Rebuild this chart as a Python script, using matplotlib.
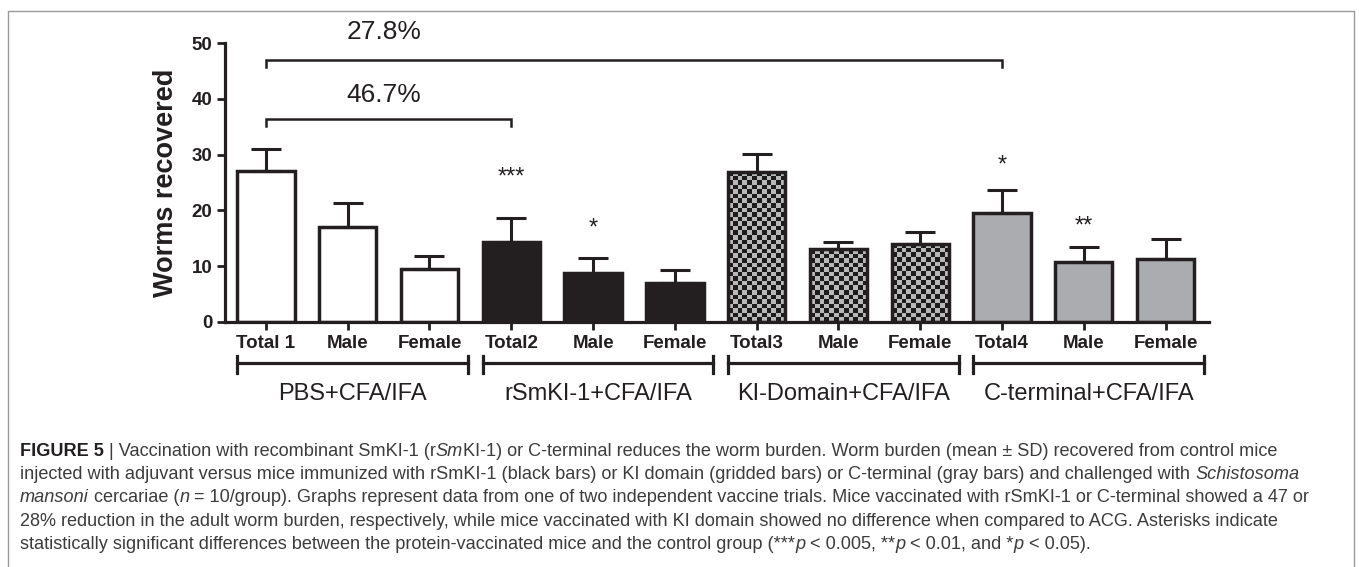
import matplotlib.pyplot as plt
import numpy as np
from matplotlib.lines import Line2D

# フォント設定
plt.rcParams['font.family'] = ['Liberation Sans', 'DejaVu Sans']

# データ
categories = ['Total 1', 'Male', 'Female', 'Total2', 'Male', 'Female',
              'Total3', 'Male', 'Female', 'Total4', 'Male', 'Female']
groups = ['PBS+CFA/IFA', 'rSmKI-1+CFA/IFA', 'KI-Domain+CFA/IFA', 'C-terminal+CFA/IFA']
means = [27.0, 17.1, 9.5, 14.4, 8.7, 7.0, 26.9, 13.0, 14.0, 19.5, 10.7, 11.3]
sds = [4.0, 4.3, 2.3, 4.2, 2.8, 2.4, 3.2, 1.4, 2.1, 4.1, 2.7, 3.5]
stars = ['', '', '', '***', '*', '', '', '', '', '*', '**', '']
star_y = [0, 0, 0, 24.0, 14.8, 0, 0, 0, 0, 26.0, 15.1, 0]
fills = ['white'] * 3 + ['#231f20'] * 3 + ['check'] * 3 + ['#abacaf'] * 3
# 比較ブラケット: (開始, 終了, 高さ, ラベル)
comparisons = [(0, 3, 36.4, '46.7%'), (0, 9, 47.0, '27.8%')]
pct_label_y = [40.6, 51.9]

W, H = 1359, 567
dark = '#231f20'

fig = plt.figure(figsize=(W / 100, H / 100), dpi=100)
ax = fig.add_axes([225 / W, 1 - 322 / H, 984 / W, 279 / H])

x = np.arange(len(categories))
bars = ax.bar(x, means, width=0.7,
              color=[('none' if f == 'check' else f) for f in fills],
              edgecolor=dark, linewidth=2.5, zorder=2)

# 格子模様のバー
for b, f in zip(bars, fills):
    if f != 'check':
        continue
    bh = b.get_height()
    nx = 12
    ny = int(round(bh * 5.58 / 4.6))
    board = (np.add.outer(np.arange(ny), np.arange(nx)) % 2).astype(float)
    im = ax.imshow(board, cmap=plt.matplotlib.colors.ListedColormap(['#1c1c1c', '#b8b8b8']),
                   extent=(b.get_x(), b.get_x() + b.get_width(), 0, bh),
                   aspect='auto', interpolation='nearest', zorder=1)
    im.set_clip_path(b)

ax.errorbar(x, means, yerr=[np.zeros(len(sds)), sds], fmt='none', ecolor=dark,
            elinewidth=2.2, capsize=10.5, capthick=2.2, zorder=3)

for xi, s, sy in zip(x, stars, star_y):
    if s:
        ax.text(xi, sy, s, ha='center', va='bottom', fontsize=17, color=dark)

# 比較ブラケット
for (a, b2, h, lab), ly in zip(comparisons, pct_label_y):
    ax.plot([a, a, b2, b2], [h - 1.3, h, h, h - 1.3], color=dark, lw=1.8,
            clip_on=False, solid_joinstyle='miter')
    ax.text(1.44, ly, lab, ha='center', va='center', fontsize=19, color=dark,
            clip_on=False)

ax.set_xlim(-0.5, 11.53)
ax.set_ylim(0, 50)
ax.set_yticks([0, 10, 20, 30, 40, 50])
ax.set_xticks(x, categories)
for lab in ax.get_xticklabels() + ax.get_yticklabels():
    lab.set_fontweight('bold')
    lab.set_fontsize(13.5)
    lab.set_color(dark)
ax.tick_params(axis='both', length=6, width=2, color=dark, pad=3)
for sp in ['top', 'right']:
    ax.spines[sp].set_visible(False)
for sp in ['left', 'bottom']:
    ax.spines[sp].set_linewidth(2.3)
    ax.spines[sp].set_color(dark)

ax.text(-0.060, 0.5, 'Worms recovered', transform=ax.transAxes, rotation=90,
        ha='center', va='center', fontsize=19.5, fontweight='bold', color=dark)

# グループのブラケット
xt = ax.get_xaxis_transform()
for g, name in enumerate(groups):
    x0, x1 = 3 * g - 0.35, 3 * g + 2.47
    ax.plot([x0, x1], [-0.147, -0.147], transform=xt, color=dark, lw=2.3, clip_on=False)
    for xe in (x0, x1):
        ax.plot([xe, xe], [-0.122, -0.183], transform=xt, color=dark, lw=2.3, clip_on=False)
    ax.text((x0 + x1) / 2, -0.257, name, transform=xt, ha='center', va='center',
            fontsize=17, color=dark)

# 枠線
fig.add_artist(Line2D([8 / W, 8 / W, 1354 / W, 1354 / W], [-0.01, 1 - 11 / H, 1 - 11 / H, -0.01],
                      color='#9a9a9a', lw=1))

# キャプション
cap_lines = [
    [('FIGURE 5', 'b'), (' | Vaccination with recombinant SmKI-1 (r', 'n'), ('Sm', 'i'),
     ('KI-1) or C-terminal reduces the worm burden. Worm burden (mean \u00b1 SD) recovered from control mice', 'n')],
    [('injected with adjuvant versus mice immunized with rSmKI-1 (black bars) or KI domain (gridded bars) '
      'or C-terminal (gray bars) and challenged with ', 'n'), ('Schistosoma', 'i')],
    [('mansoni', 'i'), (' cercariae (', 'n'), ('n', 'i'),
     (' = 10/group). Graphs represent data from one of two independent vaccine trials. '
      'Mice vaccinated with rSmKI-1 or C-terminal showed a 47 or', 'n')],
    [('28% reduction in the adult worm burden, respectively, while mice vaccinated with KI domain '
      'showed no difference when compared to ACG. Asterisks indicate', 'n')],
    [('statistically significant differences between the protein-vaccinated mice and the control group (***', 'n'),
     ('p', 'i'), (' < 0.005, **', 'n'), ('p', 'i'), (' < 0.01, and *', 'n'), ('p', 'i'), (' < 0.05).', 'n')],
]
renderer = fig.canvas.get_renderer()
for i, runs in enumerate(cap_lines):
    xp = 20
    yp = 456 + i * 23.2
    for txt, st in runs:
        t = fig.text(xp / W, 1 - yp / H, txt, fontsize=13.1, va='baseline',
                     fontweight='bold' if st == 'b' else 'normal',
                     fontstyle='italic' if st == 'i' else 'normal',
                     color=dark if st == 'b' else '#3c3c3c')
        xp += t.get_window_extent(renderer).width

fig.savefig('out.png', dpi=100)
